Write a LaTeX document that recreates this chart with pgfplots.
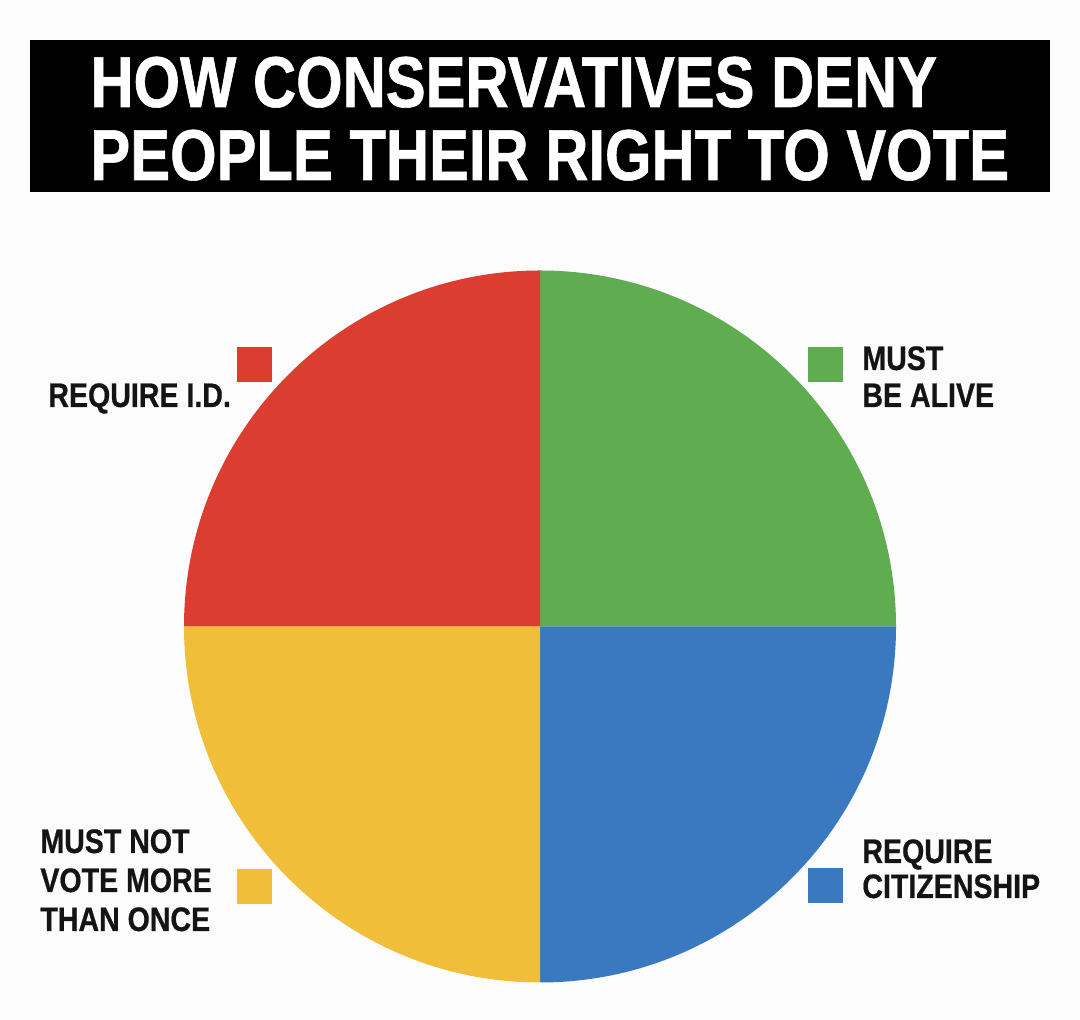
\documentclass[border=0pt]{standalone}
\usepackage{pgfplots}
\pgfplotsset{compat=1.18}
\usepackage{pgfplotstable}
\usepackage{fontspec}
\setmainfont{Liberation Sans}
\newfontfamily\titlefont[FakeStretch=0.83,FakeBold=0.8]{Liberation Sans}
\newfontfamily\labelfont[FakeStretch=0.84,FakeBold=0.6]{Liberation Sans}
\definecolor{pred}{HTML}{DB3D30}
\definecolor{pgreen}{HTML}{5FAD50}
\definecolor{pyellow}{HTML}{F0BE38}
\definecolor{pblue}{HTML}{3A79C0}
\definecolor{bg}{HTML}{FCFCFC}
% slice values (clockwise from 12 o'clock)
\pgfplotstableread{
slice value
MustBeAlive 25
RequireCitizenship 25
MustNotVoteMoreThanOnce 25
RequireID 25
}\slices
\pgfplotstablegetelem{0}{value}\of\slices \let\vA\pgfplotsretval
\pgfplotstablegetelem{1}{value}\of\slices \let\vB\pgfplotsretval
\pgfplotstablegetelem{2}{value}\of\slices \let\vC\pgfplotsretval
\pgfplotstablegetelem{3}{value}\of\slices \let\vD\pgfplotsretval
\pgfmathsetmacro\tot{\vA+\vB+\vC+\vD}
\pgfmathsetmacro\aA{90}
\pgfmathsetmacro\aB{\aA-360*\vA/\tot}
\pgfmathsetmacro\aC{\aB-360*\vB/\tot}
\pgfmathsetmacro\aD{\aC-360*\vC/\tot}
\pgfmathsetmacro\aE{\aD-360*\vD/\tot}
\def\R{178pt}
\begin{document}
\begin{tikzpicture}
\useasboundingbox (0,0) rectangle (540pt,510pt);
\fill[bg] (0,0) rectangle (540pt,510pt);
% title
\fill[black] (15pt,414pt) rectangle (525pt,490pt);
\node[anchor=base west,inner sep=0pt,text=white,font=\titlefont\bfseries\fontsize{36}{36}\selectfont] at (45pt,456.5pt) {HOW CONSERVATIVES DENY};
\node[anchor=base west,inner sep=0pt,text=white,font=\titlefont\bfseries\fontsize{36}{36}\selectfont] at (45pt,420pt) {PEOPLE THEIR RIGHT TO VOTE};
\begin{axis}[at={(270pt,196.75pt)}, anchor=center, x=\R, y=\R,
  xmin=-1, xmax=1, ymin=-1, ymax=1, hide axis, clip=false]
\fill[pgreen] (axis cs:0,0) -- ++(\aA:\R) arc[start angle=\aA, end angle=\aB, radius=\R] -- cycle;
\fill[pblue] (axis cs:0,0) -- ++(\aB:\R) arc[start angle=\aB, end angle=\aC, radius=\R] -- cycle;
\fill[pyellow] (axis cs:0,0) -- ++(\aC:\R) arc[start angle=\aC, end angle=\aD, radius=\R] -- cycle;
\fill[pred] (axis cs:0,0) -- ++(\aD:\R) arc[start angle=\aD, end angle=\aE, radius=\R] -- cycle;
\end{axis}
% legend squares
\fill[pred] (118.5pt,319pt) rectangle ++(17.5pt,17.5pt);
\fill[pgreen] (404pt,319pt) rectangle ++(17.5pt,17.5pt);
\fill[pyellow] (118.5pt,58pt) rectangle ++(17.5pt,17.5pt);
\fill[pblue] (404pt,58.5pt) rectangle ++(17.5pt,17.5pt);
% labels
\tikzset{lab/.style={anchor=base west,inner sep=0pt,text=black!92,font=\labelfont\bfseries\fontsize{17}{17}\selectfont}}
\node[lab] at (24pt,306.5pt) {REQUIRE I.D.};
\node[lab] at (431pt,325pt) {MUST};
\node[lab] at (431pt,306.5pt) {BE ALIVE};
\node[lab] at (20pt,83.5pt) {MUST NOT};
\node[lab] at (20pt,64pt) {VOTE MORE};
\node[lab] at (20pt,44.5pt) {THAN ONCE};
\node[lab] at (431pt,78.5pt) {REQUIRE};
\node[lab] at (431pt,61pt) {CITIZENSHIP};
\end{tikzpicture}
\end{document}
